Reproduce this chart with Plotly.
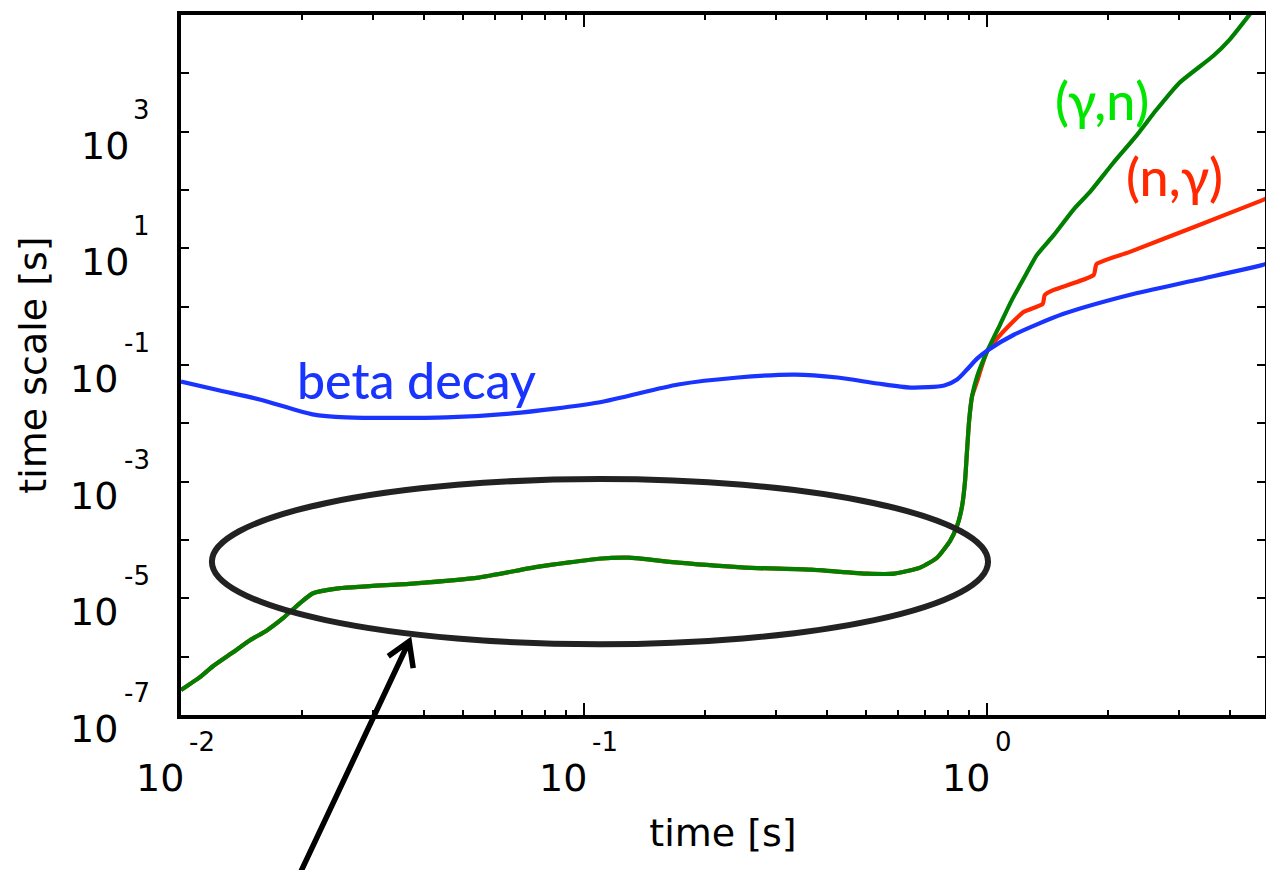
import plotly.graph_objects as go

# ---- data -------------------------------------------------------------
# beta decay time scale [s] versus time [s]
beta_t = [0.0100, 0.01248, 0.01567, 0.0212, 0.0257, 0.0455, 0.0663, 0.1087,
          0.1713, 0.241, 0.3334, 0.4256, 0.5346, 0.6452, 0.7834, 0.843, 0.892,
          0.9447, 1.0, 1.166, 1.549, 2.254, 3.302, 4.81, 4.95]
beta_tau = [0.0521, 0.0366, 0.0257, 0.01426, 0.01265, 0.01265, 0.01482, 0.0228,
            0.0463, 0.0610, 0.0686, 0.0610, 0.0482, 0.0411, 0.0445, 0.0564, 0.0835,
            0.1286, 0.176, 0.330, 0.754, 1.589, 2.866, 5.16, 5.5]

# photodisintegration (gamma,n) time scale
gn_t = [0.0100, 0.01114, 0.0120, 0.01346, 0.01483, 0.01633, 0.01788, 0.01968,
        0.0212, 0.0243, 0.0375, 0.0548, 0.0772, 0.1087, 0.1288, 0.1713, 0.2506,
        0.3648, 0.5047, 0.5885, 0.6823, 0.7516, 0.810, 0.843, 0.8674, 0.882,
        0.892, 0.9026, 0.918, 0.9447, 1.0, 1.077, 1.153, 1.250, 1.329, 1.464,
        1.641, 1.797, 2.061, 2.349, 2.633, 3.0, 3.64, 3.99, 4.45, 5.07]
gn_tau = [2.67e-7, 4.45e-7, 6.86e-7, 1.19e-6, 1.91e-6, 2.82e-6, 4.52e-6, 8.15e-6,
          1.21e-5, 1.47e-5, 1.79e-5, 2.27e-5, 3.49e-5, 4.77e-5, 4.97e-5, 4.08e-5,
          3.36e-5, 3.10e-5, 2.65e-5, 2.65e-5, 3.36e-5, 4.97e-5, 9.68e-5, 1.75e-4,
          3.84e-4, 1.02e-3, 3.33e-3, 1.08e-2, 2.89e-2, 6.34e-2, 0.1695, 0.489,
          1.306, 3.6, 7.66, 16.8, 46.7, 91.0, 296, 855, 2371, 6855, 1.98e4,
          3.72e4, 9.55e4, 3.2e5]

# neutron capture (n,gamma) time scale
ng_t = [0.0100, 0.01114, 0.0120, 0.01346, 0.01483, 0.01633, 0.01788, 0.01968,
        0.0212, 0.0243, 0.0375, 0.0548, 0.0772, 0.1087, 0.1288, 0.1713, 0.2506,
        0.3648, 0.5047, 0.5885, 0.6823, 0.7516, 0.810, 0.843, 0.8674, 0.882,
        0.892, 0.9026, 0.918, 0.9447, 1.0, 1.0586, 1.140, 1.2345, 1.375, 1.391,
        1.464, 1.839, 1.870, 2.254, 3.302, 4.81, 4.95]
ng_tau = [2.67e-7, 4.45e-7, 6.86e-7, 1.19e-6, 1.91e-6, 2.82e-6, 4.52e-6, 8.15e-6,
          1.21e-5, 1.47e-5, 1.79e-5, 2.27e-5, 3.49e-5, 4.77e-5, 4.97e-5, 4.08e-5,
          3.36e-5, 3.10e-5, 2.65e-5, 2.65e-5, 3.36e-5, 4.97e-5, 9.68e-5, 1.75e-4,
          3.84e-4, 1.02e-3, 3.33e-3, 1.08e-2, 2.89e-2, 0.0521, 0.1695, 0.2825,
          0.489, 0.815, 1.116, 1.589, 1.935, 3.49, 5.37, 8.61, 23.9, 66.5, 72.0]

x_label_exps = [-2, -1, 0]
y_label_exps = [-7, -5, -3, -1, 1, 3]

# ---- styling ----------------------------------------------------------
AX_FONT = "DejaVu Sans"
LBL_FONT = "Lato, 'Open Sans', sans-serif"
BLUE = "rgb(26,52,255)"
GREEN = "rgb(0,128,0)"
RED = "rgb(255,40,0)"

fig = go.Figure()
fig.add_trace(go.Scatter(x=ng_t, y=ng_tau, mode="lines", name="(n,γ)",
                         line=dict(color=RED, width=4.2, shape="spline", smoothing=0.5)))
fig.add_trace(go.Scatter(x=gn_t, y=gn_tau, mode="lines", name="(γ,n)",
                         line=dict(color=GREEN, width=4.2, shape="spline", smoothing=0.5)))
fig.add_trace(go.Scatter(x=beta_t, y=beta_tau, mode="lines", name="beta decay",
                         line=dict(color=BLUE, width=4.2, shape="spline", smoothing=0.7)))

annotations = []
# decade labels on the time axis: large mantissa with raised exponent
for e in x_label_exps:
    annotations.append(dict(x=e, y=0, xref="x", yref="paper", text="10",
                            showarrow=False, xanchor="right", yanchor="middle",
                            xshift=5, yshift=-63,
                            font=dict(family=AX_FONT, size=38, color="black")))
    annotations.append(dict(x=e, y=0, xref="x", yref="paper", text=str(e),
                            showarrow=False, xanchor="left", yanchor="middle",
                            xshift=6, yshift=-27,
                            font=dict(family=AX_FONT, size=26, color="black")))
# decade labels on the time-scale axis
for e in y_label_exps:
    mant_shift = -61 if e < 0 else -50
    annotations.append(dict(x=0, y=e, xref="paper", yref="y", text="10",
                            showarrow=False, xanchor="right", yanchor="middle",
                            xshift=mant_shift, yshift=-14,
                            font=dict(family=AX_FONT, size=38, color="black")))
    annotations.append(dict(x=0, y=e, xref="paper", yref="y", text=str(e),
                            showarrow=False, xanchor="right", yanchor="middle",
                            xshift=-29, yshift=22,
                            font=dict(family=AX_FONT, size=26, color="black")))

# curve labels
annotations += [
    dict(x=0.2169, y=0.478, xref="paper", yref="paper", text="beta decay",
         xanchor="center", yanchor="middle", showarrow=False,
         font=dict(family=LBL_FONT, size=50, weight=500, color=BLUE)),
    dict(x=0.8493, y=0.879, xref="paper", yref="paper", text="(γ,n)",
         xanchor="center", yanchor="middle", showarrow=False,
         font=dict(family=LBL_FONT, size=52, weight=500, color="rgb(0,230,0)")),
    dict(x=0.9165, y=0.770, xref="paper", yref="paper", text="(n,γ)",
         xanchor="center", yanchor="middle", showarrow=False,
         font=dict(family=LBL_FONT, size=52, weight=500, color=RED)),
]

shapes = [
    # ellipse highlighting the early (gamma,n) plateau
    dict(type="circle", xref="paper", yref="paper",
         x0=0.0285, x1=0.7445, y0=0.1010, y1=0.3371,
         line=dict(color="rgb(34,34,34)", width=6), layer="above"),
    # pointer arrow with open head
    dict(type="path", xref="paper", yref="paper",
         path="M 0.1094,-0.2276 L 0.2105,0.1053 M 0.1912,0.0839 L 0.2105,0.1053 L 0.2142,0.0669",
         line=dict(color="black", width=5.5), layer="above"),
]

axis_common = dict(showgrid=False, zeroline=False, showline=True, linecolor="black",
                   linewidth=3.5, mirror="ticks", ticks="inside", tickcolor="black",
                   showticklabels=False)

fig.update_layout(
    width=1280, height=870,
    margin=dict(l=181, r=11, t=12, b=155),
    paper_bgcolor="white", plot_bgcolor="white",
    showlegend=False,
    xaxis=dict(type="log", range=[-2, 0.6898], dtick=1, ticklen=12, tickwidth=2,
               minor=dict(ticks="inside", ticklen=5, tickwidth=2, tickcolor="black",
                          dtick="D1", showgrid=False),
               title=dict(text="time [s]", standoff=103,
                          font=dict(family=AX_FONT, size=38, color="black")),
               **axis_common),
    yaxis=dict(type="log", range=[-7, 5], dtick=1, ticklen=8, tickwidth=2,
               title=dict(text="time scale [s]", standoff=120,
                          font=dict(family=AX_FONT, size=38, color="black")),
               **axis_common),
    annotations=annotations,
    shapes=shapes,
)

fig.write_html("out.html", post_script=(
    "document.documentElement.style.overflow='hidden';"
    "document.body.style.overflow='hidden';"))
